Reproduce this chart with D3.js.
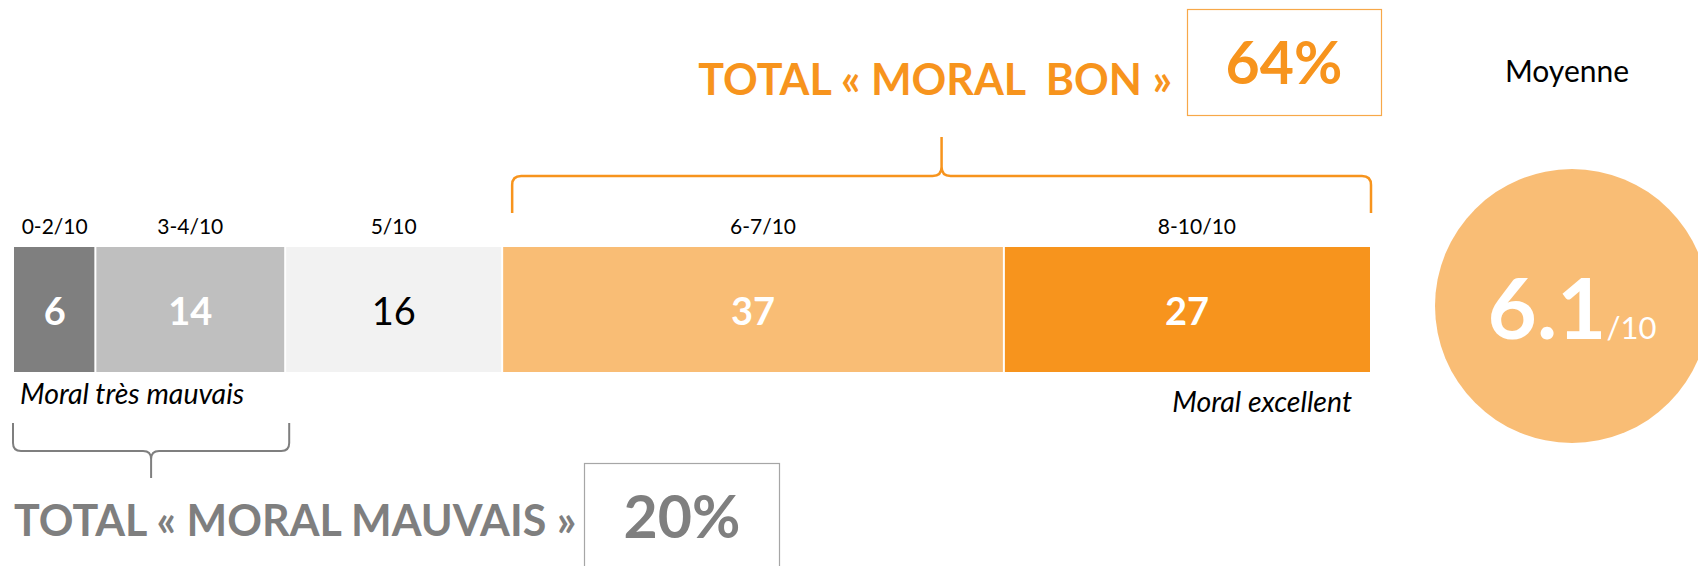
<!DOCTYPE html>
<html>
<head>
<meta charset="utf-8">
<script src="https://cdn.jsdelivr.net/npm/d3@7"></script>
<style>
  body { margin: 0; background: #fff; }
  text { font-family: Lato, "Noto Sans", sans-serif; }
</style>
</head>
<body>
<script>
var w = 1698;
var h = 566;

// data
var categories = ["0-2/10", "3-4/10", "5/10", "6-7/10", "8-10/10"];
var values = [6, 14, 16, 37, 27];
var totalBad = 20;   // 0-4/10
var totalGood = 64;  // 6-10/10
var average = 6.1;
var edgeLabels = ["Moral très mauvais", "Moral excellent"];

// styles
var segColors = ["#7f7f7f", "#bfbfbf", "#f2f2f2", "#f9bd75", "#f7941d"];
var valColors = ["#fff", "#fff", "#000", "#fff", "#fff"];
var valWeights = ["bold", "bold", "normal", "bold", "bold"];
var orange = "#f7941d";
var grey = "#7f7f7f";

var barTop = 247, barBottom = 372;

var x = d3.scaleLinear().domain([0, 100]).range([14, 1370]);

var ends = Array.from(d3.cumsum(values));
var segs = values.map(function(v, i) {
  return {cat: categories[i], v: v, x0: ends[i] - v, x1: ends[i], i: i};
});

var svg = d3.select("body")
            .append("svg")
            .attr("width", w)
            .attr("height", h);

// bar segments
svg.selectAll("rect.seg")
  .data(segs)
  .enter()
  .append("rect")
  .attr("class", "seg")
  .attr("x", function(d) { return x(d.x0) + (d.i ? 1 : 0); })
  .attr("y", barTop)
  .attr("width", function(d) { return x(d.x1) - x(d.x0) - (d.i ? 2 : 1) + (d.i == 4 ? 1 : 0); })
  .attr("height", barBottom - barTop)
  .style("fill", function(d) { return segColors[d.i]; });

// category labels
svg.selectAll("text.cat")
  .data(segs)
  .enter()
  .append("text")
  .attr("class", "cat")
  .attr("x", function(d) { return (x(d.x0) + x(d.x1)) / 2 + (d.i >= 3 ? 10 : 0); })
  .attr("y", 234)
  .attr("text-anchor", "middle")
  .style("font-size", "21px")
  .style("fill", "#000")
  .text(function(d) { return d.cat; });

// values in bar
svg.selectAll("text.val")
  .data(segs)
  .enter()
  .append("text")
  .attr("class", "val")
  .attr("x", function(d) { return (x(d.x0) + x(d.x1)) / 2; })
  .attr("y", 325)
  .attr("text-anchor", "middle")
  .style("font-size", "38px")
  .style("font-weight", function(d) { return valWeights[d.i]; })
  .style("fill", function(d) { return valColors[d.i]; })
  .text(function(d) { return d.v; });

// edge labels
svg.append("text")
  .attr("x", x(0) + 6)
  .attr("y", 404)
  .style("font-size", "28.5px")
  .style("font-style", "italic")
  .text(edgeLabels[0]);

svg.append("text")
  .attr("x", x(100) - 18)
  .attr("y", 412)
  .attr("text-anchor", "end")
  .style("font-size", "28.5px")
  .style("font-style", "italic")
  .text(edgeLabels[1]);

// curly brace, tip up when yTip < yMid
function brace(x1, x2, yLeg, yMid, yTip, r) {
  var xm = (x1 + x2) / 2;
  var dir = yTip < yMid ? -1 : 1;
  var p = d3.path();
  p.moveTo(x1, yLeg);
  p.lineTo(x1, yMid - dir * r);
  p.quadraticCurveTo(x1, yMid, x1 + r, yMid);
  p.lineTo(xm - r, yMid);
  p.quadraticCurveTo(xm, yMid, xm, yMid + dir * r);
  p.lineTo(xm, yTip);
  p.moveTo(xm, yMid + dir * r);
  p.quadraticCurveTo(xm, yMid, xm + r, yMid);
  p.lineTo(x2 - r, yMid);
  p.quadraticCurveTo(x2, yMid, x2, yMid - dir * r);
  p.lineTo(x2, yLeg);
  return p.toString();
}

var badEnd = d3.sum(values.slice(0, 2));
var goodStart = d3.sum(values.slice(0, 3));

svg.append("path")
  .attr("d", brace(x(goodStart) + 10, x(100) + 1, 213, 176, 137, 9))
  .style("fill", "none")
  .style("stroke", orange)
  .style("stroke-width", 2.5);

svg.append("path")
  .attr("d", brace(x(0) - 1, x(badEnd) + 4, 423, 451, 478, 8))
  .style("fill", "none")
  .style("stroke", grey)
  .style("stroke-width", 2);

// totals
svg.append("text")
  .attr("x", 1172)
  .attr("y", 95)
  .attr("text-anchor", "end")
  .style("font-size", "43px")
  .style("font-weight", "bold")
  .style("fill", orange)
  .style("white-space", "pre")
  .text("TOTAL « MORAL  BON »");

svg.append("rect")
  .attr("x", 1187.5).attr("y", 9.5)
  .attr("width", 194).attr("height", 106)
  .style("fill", "none")
  .style("stroke", "#f7a849")
  .style("stroke-width", 1.2);

svg.append("text")
  .attr("x", 1284)
  .attr("y", 84)
  .attr("text-anchor", "middle")
  .style("font-size", "59px")
  .style("font-weight", "bold")
  .style("fill", orange)
  .text(totalGood + "%");

svg.append("text")
  .attr("x", 14)
  .attr("y", 536)
  .style("font-size", "43px")
  .style("font-weight", "bold")
  .style("fill", grey)
  .text("TOTAL « MORAL MAUVAIS »");

svg.append("rect")
  .attr("x", 584.5).attr("y", 463.5)
  .attr("width", 195).attr("height", 120)
  .style("fill", "none")
  .style("stroke", "#a6a6a6")
  .style("stroke-width", 1.2);

svg.append("text")
  .attr("x", 682)
  .attr("y", 538)
  .attr("text-anchor", "middle")
  .style("font-size", "59px")
  .style("font-weight", "bold")
  .style("fill", grey)
  .text(totalBad + "%");

// average
var cx = 1572, cy = 306;
svg.append("text")
  .attr("x", 1567)
  .attr("y", 82)
  .attr("text-anchor", "middle")
  .style("font-size", "30px")
  .text("Moyenne");

svg.append("circle")
  .attr("cx", cx)
  .attr("cy", cy)
  .attr("r", 137)
  .style("fill", "#f9bd75");

var avg = svg.append("text")
  .attr("x", cx)
  .attr("y", 339)
  .attr("text-anchor", "middle")
  .style("fill", "#fff");
avg.append("tspan")
  .style("font-size", "85px")
  .style("font-weight", "bold")
  .text(d3.format(".1f")(average));
avg.append("tspan")
  .style("font-size", "31px")
  .text("/10");
</script>
</body>
</html>
